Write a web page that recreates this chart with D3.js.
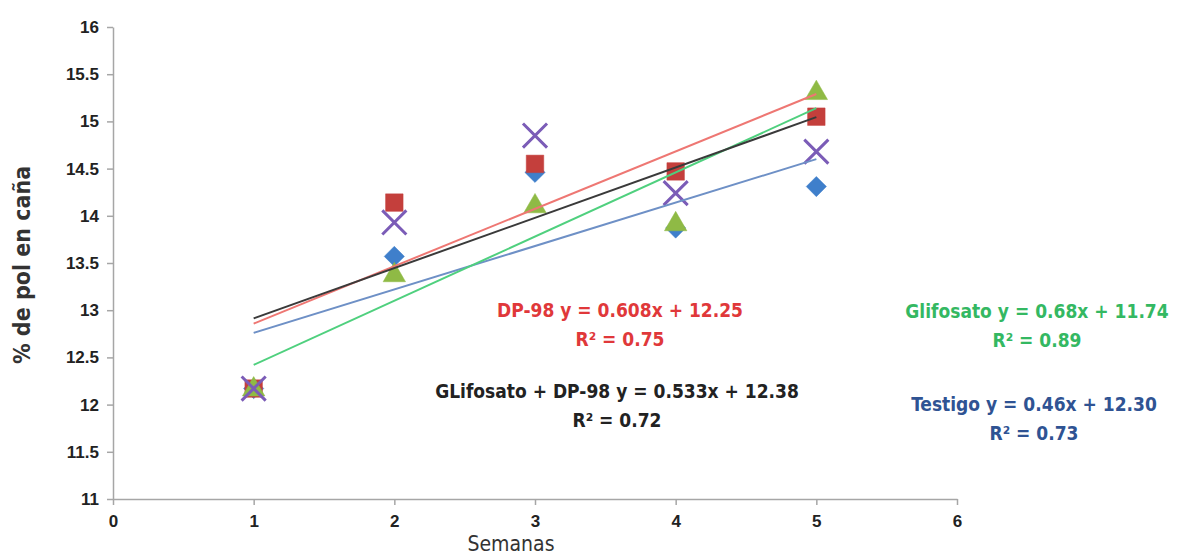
<!DOCTYPE html>
<meta charset="utf-8">
<head>
<style>
  body { margin: 0; background: #fff; }
  svg { font-family: 'Liberation Sans Narrow', 'DejaVu Sans Condensed', sans-serif; }
  .axis path, .axis line { stroke: #a6a6a6; stroke-width: 1.5px; }
  .axis text { fill: #222; font-size: 17px; font-weight: bold; }
  .trend { fill: none; stroke-width: 2px; }
  .eq { font-size: 19px; font-weight: bold; text-anchor: middle; }
</style>
</head>
<body>
<svg width="1183" height="556"></svg>
<script src="https://d3js.org/d3.v7.min.js"></script>
<script>
// weeks
var semanas = [1, 2, 3, 4, 5];

// % pol en caña per treatment
var testigo    = [12.17, 13.57, 14.46, 13.87, 14.31];
var dp98       = [12.17, 14.14, 14.55, 14.47, 15.05];
var glifosato  = [12.16, 13.37, 14.10, 13.91, 15.30];
var glifDp98   = [12.17, 13.93, 14.85, 14.24, 14.68];

// trendline coefficients as printed on the chart
var slopes     = [0.46, 0.608, 0.68, 0.533];
var intercepts = [12.30, 12.25, 11.74, 12.38];

var xTicks = [0, 1, 2, 3, 4, 5, 6];
var yTicks = [11, 11.5, 12, 12.5, 13, 13.5, 14, 14.5, 15, 15.5, 16];

var svg = d3.select('svg');

var x = d3.scaleLinear().domain([0, 6]).range([113, 957]);
var y = d3.scaleLinear().domain([11, 16]).range([499, 27]);

// axes
svg.append('g')
  .attr('class', 'axis')
  .attr('transform', 'translate(0,499)')
  .call(d3.axisBottom(x).tickValues(xTicks).tickFormat(d3.format('d')).tickSize(6).tickSizeOuter(0).tickPadding(10));

svg.append('g')
  .attr('class', 'axis')
  .attr('transform', 'translate(113,0)')
  .call(d3.axisLeft(y).tickValues(yTicks).tickFormat(d => d).tickSize(6).tickSizeOuter(0).tickPadding(8));

svg.append('text')
  .attr('transform', 'translate(30,265) rotate(-90)')
  .attr('text-anchor', 'middle')
  .style('font-size', '23px')
  .style('font-weight', 'bold')
  .style('fill', '#333')
  .text('% de pol en caña');

svg.append('text')
  .attr('x', 511).attr('y', 551)
  .attr('text-anchor', 'middle')
  .style('font-size', '21px')
  .style('fill', '#333')
  .text('Semanas');

// markers
var series = [
  {vals: testigo,   shape: d3.symbolDiamond2, size: 260, color: '#3F7FCB'},
  {vals: dp98,      shape: d3.symbolSquare2,  size: 390, color: '#C43F3C'},
  {vals: glifosato, shape: d3.symbolTriangle2, size: 360, color: '#8FBA45'},
  {vals: glifDp98,  shape: d3.symbolX,        size: 380, color: '#7B5CB7'}
];

series.forEach(function(s) {
  var g = svg.append('g');
  g.selectAll('path')
    .data(s.vals)
    .enter().append('path')
    .attr('transform', (d, i) => 'translate(' + x(semanas[i]) + ',' + y(d) + ')')
    .attr('d', d3.symbol().type(s.shape).size(s.size))
    .attr('fill', s.shape === d3.symbolX ? 'none' : s.color)
    .attr('stroke', s.color)
    .attr('stroke-width', s.shape === d3.symbolX ? 3 : 0.5);
});

// trendlines
var trendColors = ['#6E90C6', '#EE7773', '#4FD07E', '#3a3a3a'];
slopes.forEach(function(m, k) {
  var b = intercepts[k];
  svg.append('line')
    .attr('class', 'trend')
    .attr('x1', x(1)).attr('y1', y(m * 1 + b))
    .attr('x2', x(5)).attr('y2', y(m * 5 + b))
    .attr('stroke', trendColors[k]);
});

// equation labels
var eqLabels = [
  {t: 'DP-98 y = 0.608x + 12.25', r: 'R² = 0.75', cx: 620, cy: 317, color: '#E0383A'},
  {t: 'GLifosato + DP-98 y = 0.533x + 12.38', r: 'R² = 0.72', cx: 617, cy: 398, color: '#222'},
  {t: 'Glifosato y = 0.68x + 11.74', r: 'R² = 0.89', cx: 1037, cy: 318, color: '#34B862'},
  {t: 'Testigo y = 0.46x + 12.30', r: 'R² = 0.73', cx: 1034, cy: 411, color: '#2F5393'}
];

eqLabels.forEach(function(l) {
  svg.append('text').attr('class', 'eq')
    .attr('x', l.cx).attr('y', l.cy)
    .style('fill', l.color)
    .text(l.t);
  svg.append('text').attr('class', 'eq')
    .attr('x', l.cx).attr('y', l.cy + 29)
    .style('fill', l.color)
    .text(l.r);
});
</script>
</body>
